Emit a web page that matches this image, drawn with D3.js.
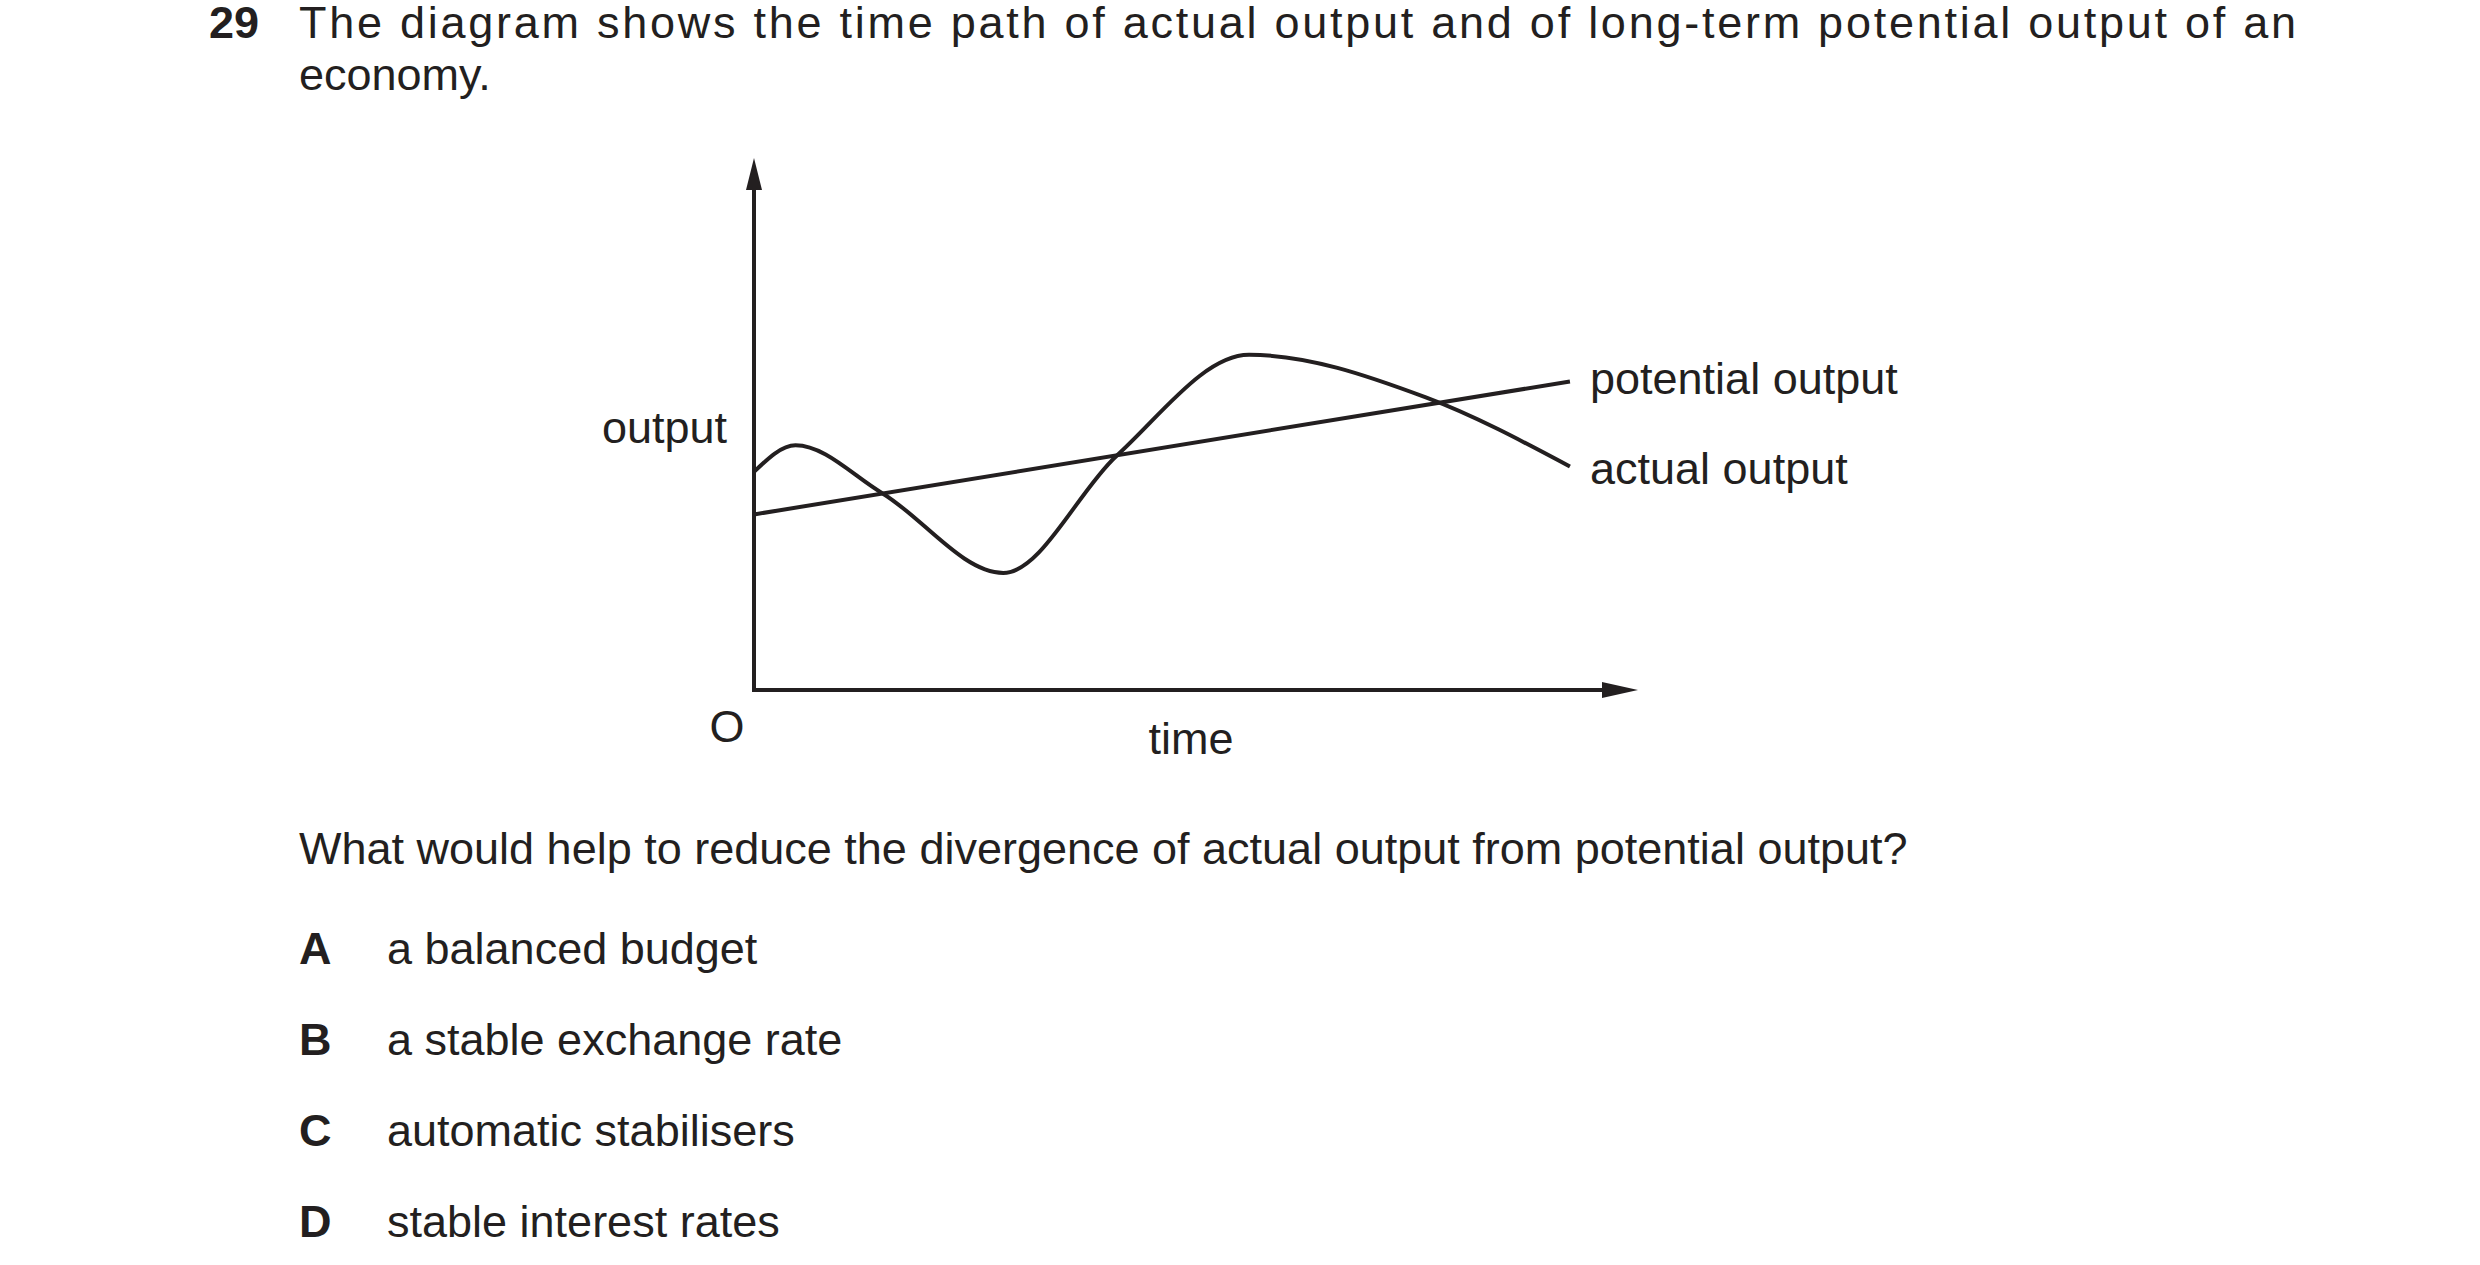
<!DOCTYPE html><html><head><meta charset="utf-8"><script src="https://cdn.jsdelivr.net/npm/d3@7"></script>
<style>body{margin:0;background:#fff}text{font-family:"Liberation Sans",Arial,sans-serif;fill:#231f20}</style></head><body>
<script>
const actualT=[0,4.7,14.5,28.2,41,56,76,92.3];
const actualY=[41,46,37,22,44,63,55,42];
const potentialT=[0,92.3];
const potentialY=[33,58];
const W=2480,H=1265;
const svg=d3.select("body").append("svg").attr("width",W).attr("height",H);
const x=d3.scaleLinear().domain([0,100]).range([754,1638]);
const y=d3.scaleLinear().domain([0,100]).range([690,158]);
const fs=45;
// header
svg.append("text").attr("x",209).attr("y",38).attr("font-size",fs).attr("font-weight","bold").text("29");
svg.append("text").attr("x",299).attr("y",38).attr("font-size",fs).attr("textLength",1997).attr("lengthAdjust","spacing")
 .text("The diagram shows the time path of actual output and of long-term potential output of an");
svg.append("text").attr("x",299).attr("y",90).attr("font-size",fs).text("economy.");
// axes
const c="#231f20";
svg.append("line").attr("x1",x(0)).attr("y1",y(0)).attr("x2",x(0)).attr("y2",y(100)+25).attr("stroke",c).attr("stroke-width",4);
svg.append("line").attr("x1",x(0)-2).attr("y1",y(0)).attr("x2",x(100)-25).attr("y2",y(0)).attr("stroke",c).attr("stroke-width",4);
svg.append("path").attr("d",`M${x(0)-8},${y(100)+32}L${x(0)},${y(100)}L${x(0)+8},${y(100)+32}Z`).attr("fill",c);
svg.append("path").attr("d",`M${x(100)-36},${y(0)-8}L${x(100)},${y(0)}L${x(100)-36},${y(0)+8}Z`).attr("fill",c);
const line=d3.line().x(d=>x(d[0])).y(d=>y(d[1]));
svg.append("path").attr("d",line.curve(d3.curveLinear)(potentialT.map((t,i)=>[t,potentialY[i]]))).attr("fill","none").attr("stroke",c).attr("stroke-width",4);
svg.append("path").attr("d",line.curve(d3.curveMonotoneX)(actualT.map((t,i)=>[t,actualY[i]]))).attr("fill","none").attr("stroke",c).attr("stroke-width",4);
// labels
svg.append("text").attr("x",727).attr("y",443).attr("text-anchor","end").attr("font-size",fs).text("output");
svg.append("text").attr("x",727).attr("y",742).attr("text-anchor","middle").attr("font-size",fs).text("O");
svg.append("text").attr("x",1191).attr("y",754).attr("text-anchor","middle").attr("font-size",fs).text("time");
svg.append("text").attr("x",1590).attr("y",394).attr("font-size",fs).text("potential output");
svg.append("text").attr("x",1590).attr("y",484).attr("font-size",fs).text("actual output");
// question
svg.append("text").attr("x",299).attr("y",864).attr("font-size",fs).text("What would help to reduce the divergence of actual output from potential output?");
const letters=["A","B","C","D"];
const options=["a balanced budget","a stable exchange rate","automatic stabilisers","stable interest rates"];
letters.forEach((l,i)=>{
 const by=964+i*91;
 svg.append("text").attr("x",299).attr("y",by).attr("font-size",fs).attr("font-weight","bold").text(l);
 svg.append("text").attr("x",387).attr("y",by).attr("font-size",fs).text(options[i]);
});
</script></body></html>
